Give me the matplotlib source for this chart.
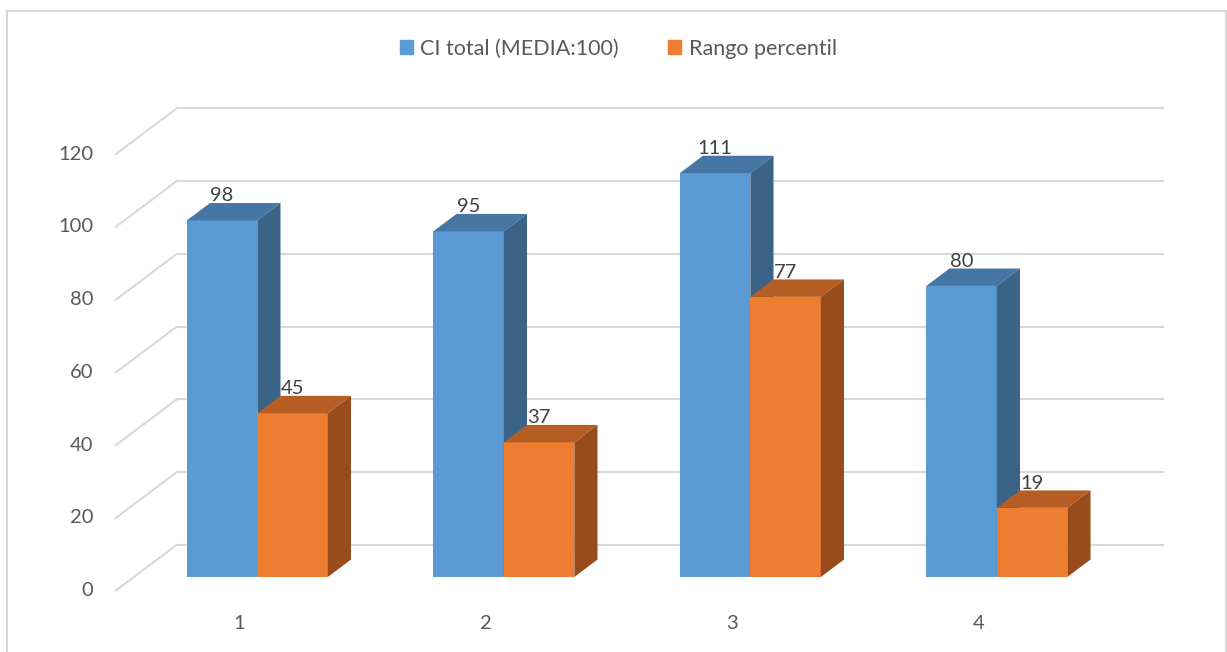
import matplotlib.pyplot as plt
from matplotlib.patches import Patch, Rectangle

# data
categorias = ['1', '2', '3', '4']
ci_total = [98, 95, 111, 80]
rango_percentil = [45, 37, 77, 19]
ticks = [0, 20, 40, 60, 80, 100, 120]

azul = ['#5B9BD5', '#4676A4', '#3A6387']      # front, top, side
naranja = ['#ED7D31', '#B55D22', '#984C1B']

plt.rcParams['font.family'] = ['Lato', 'DejaVu Sans']

# fake 3d: depth z in [0, 1] shifts a point by (DX, DY) in data units
DX, DY = 0.2475, 12.59
zf, zb = 0.30, 0.68
w = 0.286

fig = plt.figure(figsize=(12.27, 6.52), dpi=100)
ax = fig.add_axes([0, 0, 1, 1])
ax.set_xlim(-0.9696, 4.008)
ax.set_ylim(-16.85, 162.37)
ax.axis('off')

grid = '#D9D9D9'
for t in ticks:
    ax.plot([-0.5 + DX, 3.5 + DX], [t + DY, t + DY], color=grid, lw=1.5, zorder=1)
    ax.plot([-0.5, -0.5 + DX], [t, t + DY], color=grid, lw=1.5, zorder=1)
    ax.text(-0.59, t, str(t), ha='right', va='center', fontsize=14.5, color='#595959')

def barra3d(x0, v, cols, z):
    x1 = x0 + w
    ax.bar(x0 + zf * DX, v, width=w, bottom=zf * DY, align='edge', color=cols[0], zorder=z)
    ax.fill([x0 + zf * DX, x1 + zf * DX, x1 + zb * DX, x0 + zb * DX],
            [v + zf * DY, v + zf * DY, v + zb * DY, v + zb * DY], color=cols[1], zorder=z, lw=0)
    ax.fill([x1 + zf * DX, x1 + zb * DX, x1 + zb * DX, x1 + zf * DX],
            [zf * DY, zb * DY, v + zb * DY, v + zf * DY], color=cols[2], zorder=z, lw=0)
    ax.text(x0 + w / 2 + zf * DX, v + zb * DY - 0.3, str(v), ha='center', va='bottom',
            fontsize=14.5, color='#404040', zorder=10)

for i in range(len(categorias)):
    barra3d(i - w, ci_total[i], azul, 3)
    barra3d(i, rango_percentil[i], naranja, 4)
    ax.text(i, -8.9, categorias[i], ha='center', va='center', fontsize=14.5, color='#595959')

handles = [Patch(color=azul[0], label='CI total (MEDIA:100)'),
           Patch(color=naranja[0], label='Rango percentil')]
fig.legend(handles=handles, loc='center', bbox_to_anchor=(0.504, 0.925), ncol=2,
           frameon=False, fontsize=15.5, handlelength=0.6, handleheight=0.6,
           handletextpad=0.35, columnspacing=2.3, labelcolor='#595959')

fig.patches.append(Rectangle((7 / 1227, -0.01), 1219 / 1227, 1 - 11 / 652 + 0.01,
                             transform=fig.transFigure, fill=False, edgecolor=grid, lw=1.5))

fig.savefig('out.png', dpi=100)
